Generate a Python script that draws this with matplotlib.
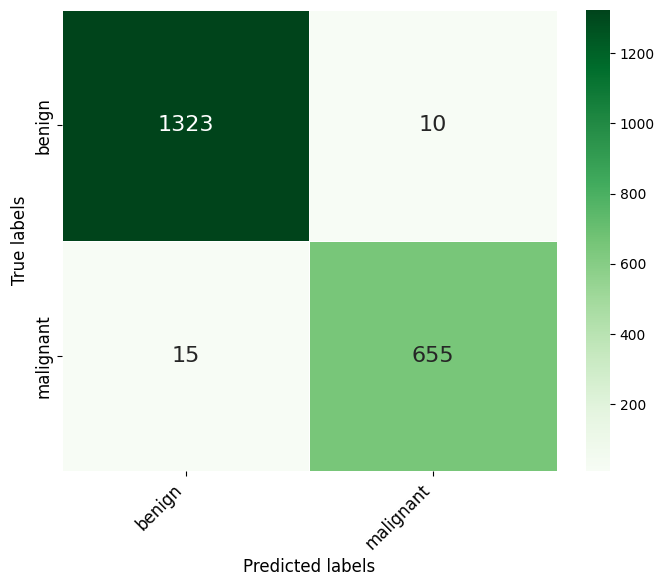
import numpy as np
import matplotlib
matplotlib.use('Agg')
import matplotlib.pyplot as plt
import seaborn as sns

labels = ['benign', 'malignant']
cm = np.array([[1323, 10],
               [15, 655]])

fig = plt.figure(figsize=(6.66, 5.87), dpi=100)
ax = fig.add_axes([0.0931, 0.1976, 0.7432, 0.7853])
cax = fig.add_axes([0.8799, 0.1976, 0.036, 0.7853])

sns.heatmap(cm, annot=True, fmt='d', cmap='Greens', linewidths=0.5, linecolor='white',
            xticklabels=labels, yticklabels=labels, annot_kws={'size': 16},
            ax=ax, cbar_ax=cax)

ax.set_xlabel('Predicted labels', fontsize=12)
ax.set_ylabel('True labels', fontsize=12)
plt.setp(ax.get_xticklabels(), rotation=45, ha='right', fontsize=12)
plt.setp(ax.get_yticklabels(), rotation=90, va='center', fontsize=12)

fig.savefig('out.png', dpi=100)
